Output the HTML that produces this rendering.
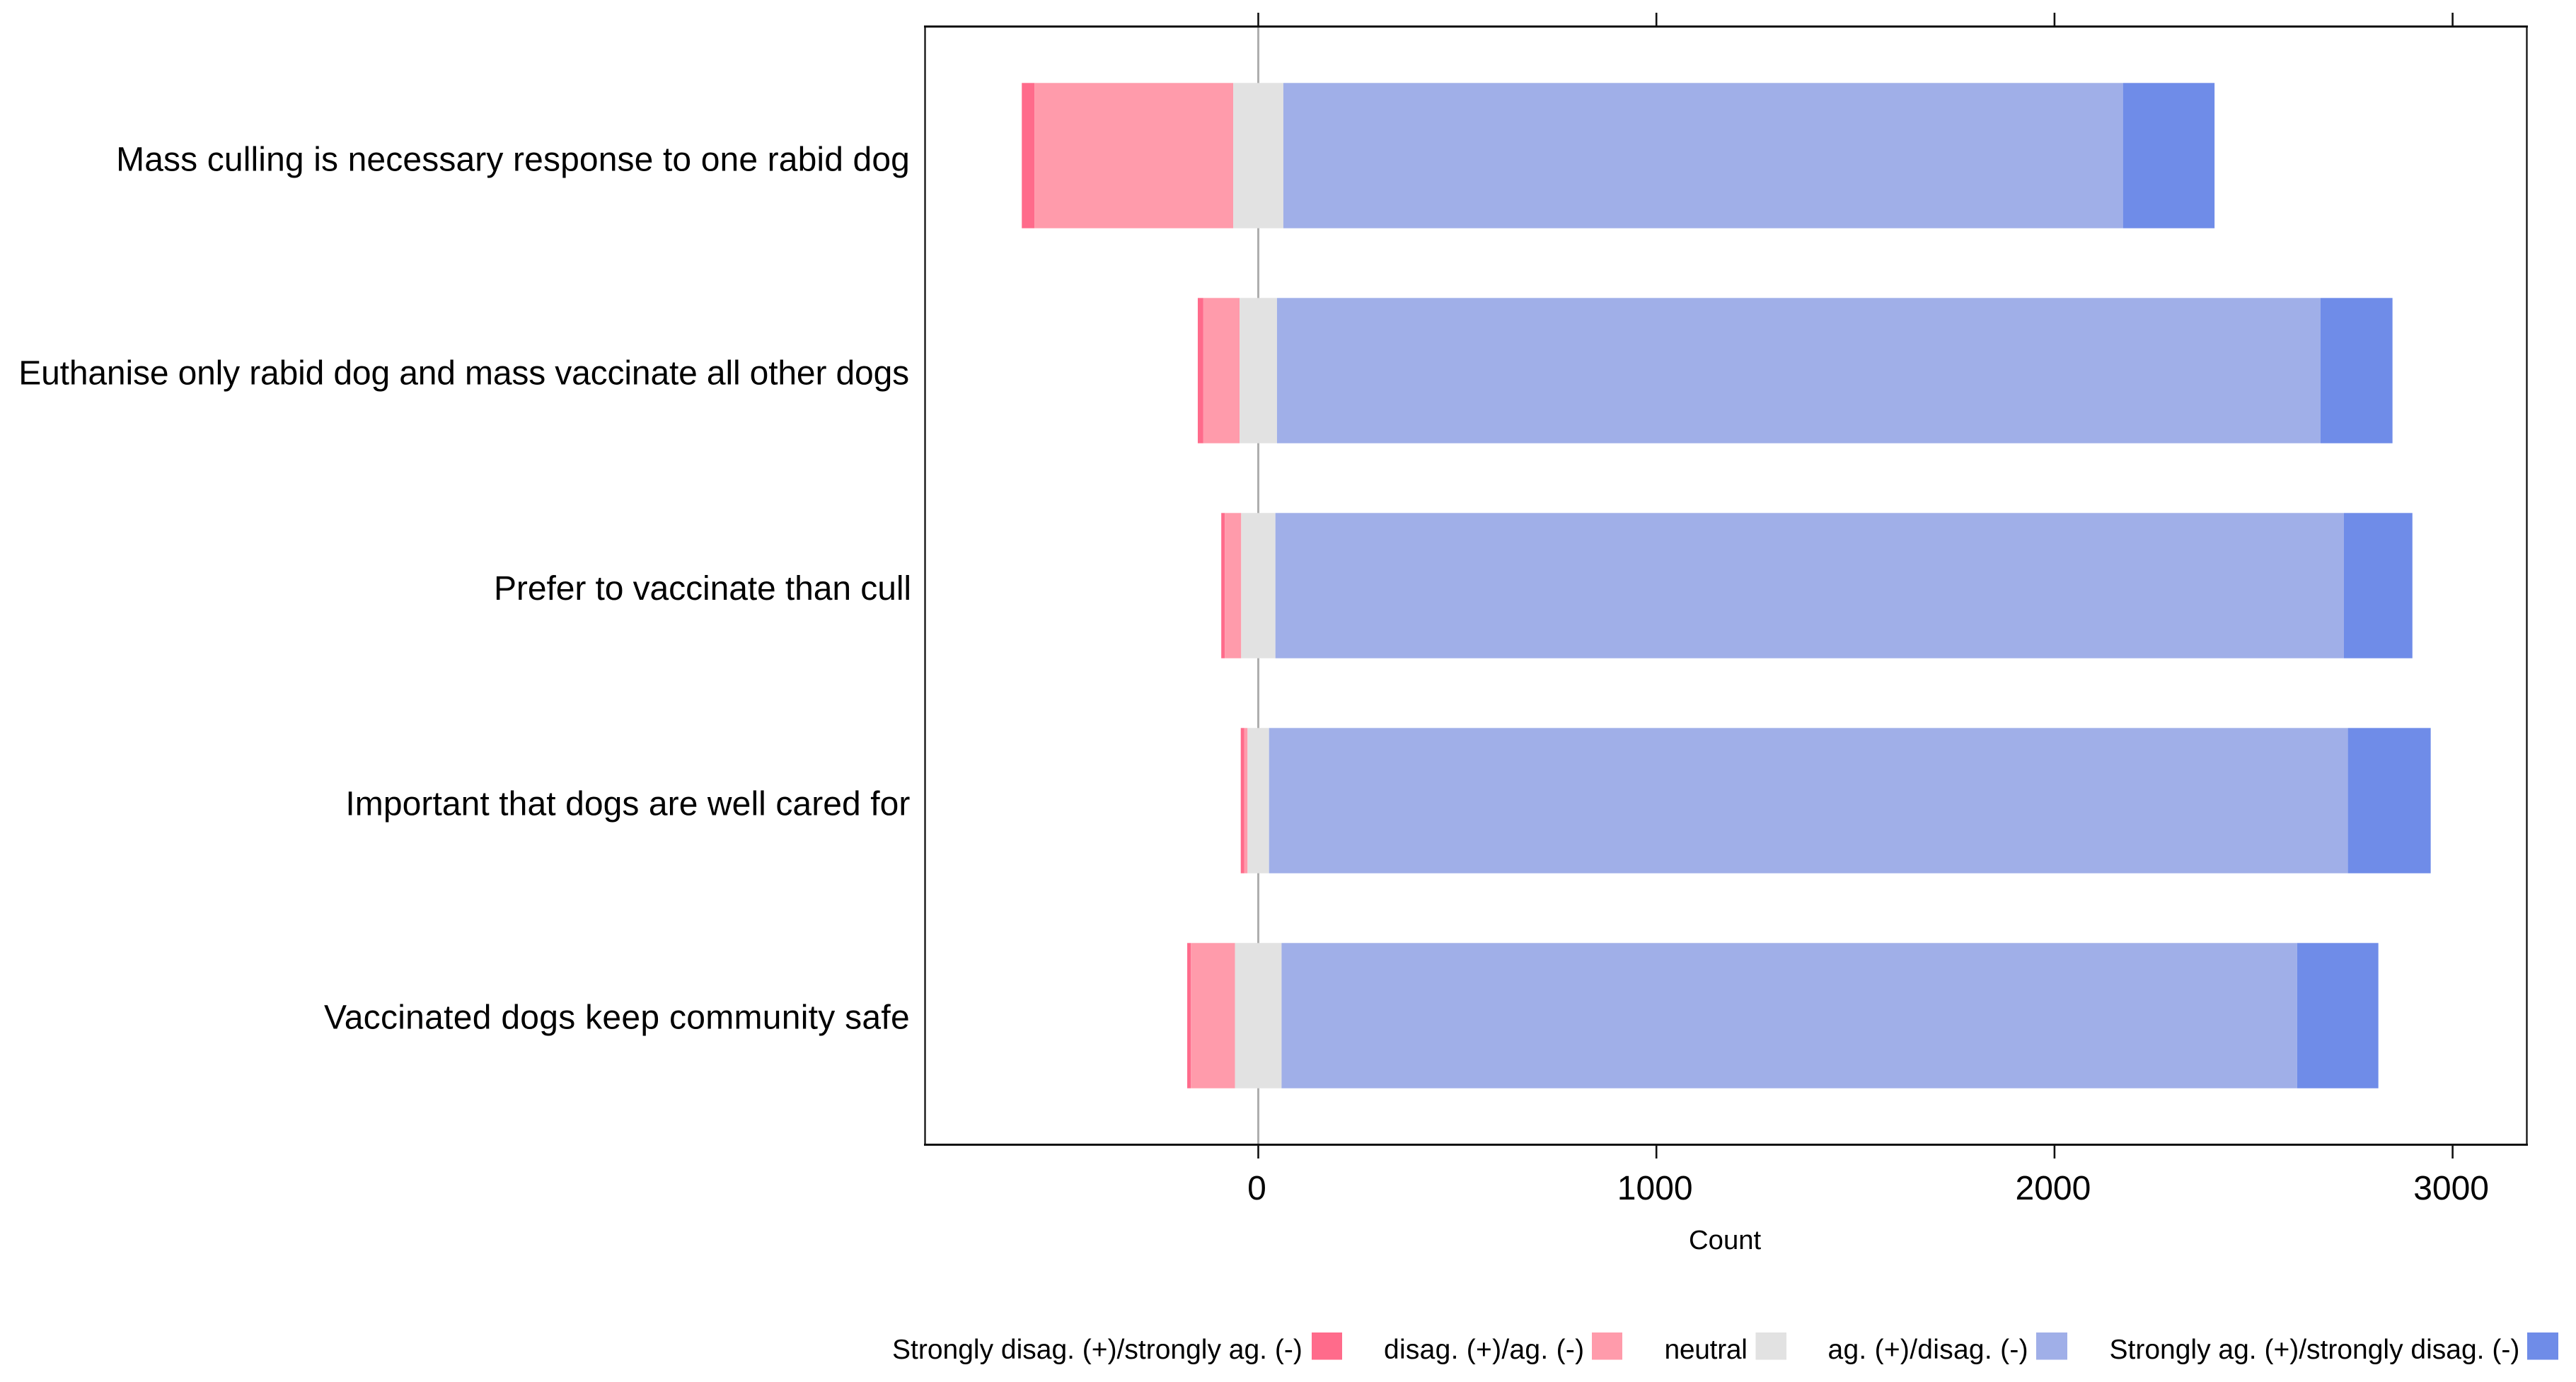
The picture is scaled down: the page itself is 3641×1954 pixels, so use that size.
<!DOCTYPE html>
<html lang="en">
<head>
<meta charset="utf-8">
<title>Likert diverging bar chart</title>
<style>
html,body{margin:0;padding:0;background:#fff;}
svg{display:block;}
text{font-family:"Liberation Sans",Arial,sans-serif;fill:#000;}
#cat-labels text:nth-child(1){letter-spacing:.13px;transform:translate(1px,1.5px);}
#cat-labels text:nth-child(2){letter-spacing:-.15px;transform:translate(0px,-.5px);}
#cat-labels text:nth-child(3){letter-spacing:-.08px;transform:translate(3px,0px);}
#cat-labels text:nth-child(4){letter-spacing:.08px;transform:translate(1.5px,.5px);}
#cat-labels text:nth-child(5){letter-spacing:.28px;transform:translate(1px,-1.5px);}
</style>
</head>
<body>
<svg id="chart" xmlns="http://www.w3.org/2000/svg" width="3641" height="1954" viewBox="0 0 3641 1954">
  <rect x="0" y="0" width="3641" height="1954" fill="#ffffff"/>
  <g id="zero-layer"></g>
  <g id="bars"></g>
  <g stroke="#111111" fill="none">
    <line x1="1307.5" x2="1307.5" y1="36" y2="1620" stroke-width="2.3"/>
    <line x1="3571.5" x2="3571.5" y1="36" y2="1620" stroke-width="2.3"/>
    <line x1="1306" x2="3573" y1="37.5" y2="37.5" stroke-width="3"/>
    <line x1="1306" x2="3573" y1="1618.5" y2="1618.5" stroke-width="3"/>
  </g>
  <g id="ticks"></g>
  <g id="cat-labels"></g>
  <text x="2387" y="1766" font-size="38.3">Count</text>
  <g>
    <g>
      <text x="1261" y="1921" font-size="39">Strongly disag. (+)/strongly ag. (-)</text>
      <rect x="1854" y="1884" width="43" height="38.5" fill="#ff6b8b"/>
    </g>
    <g>
      <text x="1956" y="1921" font-size="39" style="letter-spacing:.27px">disag. (+)/ag. (-)</text>
      <rect x="2250" y="1884" width="43" height="38.5" fill="#ff9bab"/>
    </g>
    <g>
      <text x="2352.5" y="1921" font-size="39" style="letter-spacing:-.3px">neutral</text>
      <rect x="2481.5" y="1884" width="43.5" height="38.5" fill="#e2e2e2"/>
    </g>
    <g>
      <text x="2583.5" y="1921" font-size="39" style="letter-spacing:.27px">ag. (+)/disag. (-)</text>
      <rect x="2878" y="1884" width="44" height="38.5" fill="#a0afe8"/>
    </g>
    <g>
      <text x="2981.5" y="1921" font-size="39">Strongly ag. (+)/strongly disag. (-)</text>
      <rect x="3572" y="1884" width="44" height="38.5" fill="#6f8ce8"/>
    </g>
  </g>
</svg>
<script>
const categories = [
  "Mass culling is necessary response to one rabid dog",
  "Euthanise only rabid dog and mass vaccinate all other dogs",
  "Prefer to vaccinate than cull",
  "Important that dogs are well cared for",
  "Vaccinated dogs keep community safe"
];
const stronglyDisagree = [32, 14, 9, 9, 9];
const disagree = [499, 91, 41, 8, 111];
const neutral = [126, 94, 86, 54, 117];
const agree = [2109, 2621, 2684, 2710, 2551];
const stronglyAgree = [230, 181, 172, 208, 204];
const tickValues = [0, 1000, 2000, 3000];
const tickLabels = ["0", "1000", "2000", "3000"];

const NS = "http://www.w3.org/2000/svg";
const xScale = function (v) { return 1778.5 + 0.5627 * v; };
const yCenter = function (i) { return 220 + 304 * i; };
const BAR_H = 205.4;
const COLORS = { sd: "#ff6b8b", d: "#ff9bab", n: "#e2e2e2", a: "#a0afe8", sa: "#6f8ce8" };

function make(tag, attrs, parent) {
  const el = document.createElementNS(NS, tag);
  for (const k in attrs) el.setAttribute(k, attrs[k]);
  parent.appendChild(el);
  return el;
}

const zeroLayer = document.getElementById("zero-layer");
const zeroLine = make("line", { x1: xScale(0), x2: xScale(0), y1: 37, y2: 1618, stroke: "#aeaeae", "stroke-width": 3 }, zeroLayer);



const barsG = document.getElementById("bars");
const labelsG = document.getElementById("cat-labels");
categories.forEach(function (cat, i) {
  const top = yCenter(i) - BAR_H / 2;
  const row = make("g", {}, barsG);
  
  

  const v0 = -neutral[i] / 2 - disagree[i] - stronglyDisagree[i];
  const v1 = -neutral[i] / 2 - disagree[i];
  const v2 = -neutral[i] / 2;
  const v3 = neutral[i] / 2;
  const v4 = v3 + agree[i];
  const v5 = v4 + stronglyAgree[i];

  const s1 = make("rect", { x: xScale(v0), y: top, width: xScale(v1) - xScale(v0), height: BAR_H, fill: COLORS.sd }, row);
  
  
  const s2 = make("rect", { x: xScale(v1), y: top, width: xScale(v2) - xScale(v1), height: BAR_H, fill: COLORS.d }, row);
  
  
  const s3 = make("rect", { x: xScale(v2), y: top, width: xScale(v3) - xScale(v2), height: BAR_H, fill: COLORS.n }, row);
  
  
  const s4 = make("rect", { x: xScale(v3), y: top, width: xScale(v4) - xScale(v3), height: BAR_H, fill: COLORS.a }, row);
  
  
  const s5 = make("rect", { x: xScale(v4), y: top, width: xScale(v5) - xScale(v4), height: BAR_H, fill: COLORS.sa }, row);
  
  

  const lab = make("text", { x: 1285, y: yCenter(i) + 20, "text-anchor": "end", "font-size": 48 }, labelsG);
  lab.textContent = cat;
  
  
});

const ticksG = document.getElementById("ticks");
tickValues.forEach(function (v, i) {
  const x = xScale(v);
  const tTop = make("line", { x1: x, x2: x, y1: 18, y2: 37, stroke: "#111111", "stroke-width": 2.6 }, ticksG);
  
  
  const tBottom = make("line", { x1: x, x2: x, y1: 1618, y2: 1638, stroke: "#111111", "stroke-width": 2.6 }, ticksG);
  
  
  const tl = make("text", { x: x - 2, y: 1696, "text-anchor": "middle", "font-size": 48 }, ticksG);
  tl.textContent = tickLabels[i];
  
  
});
</script>
</body>
</html>
